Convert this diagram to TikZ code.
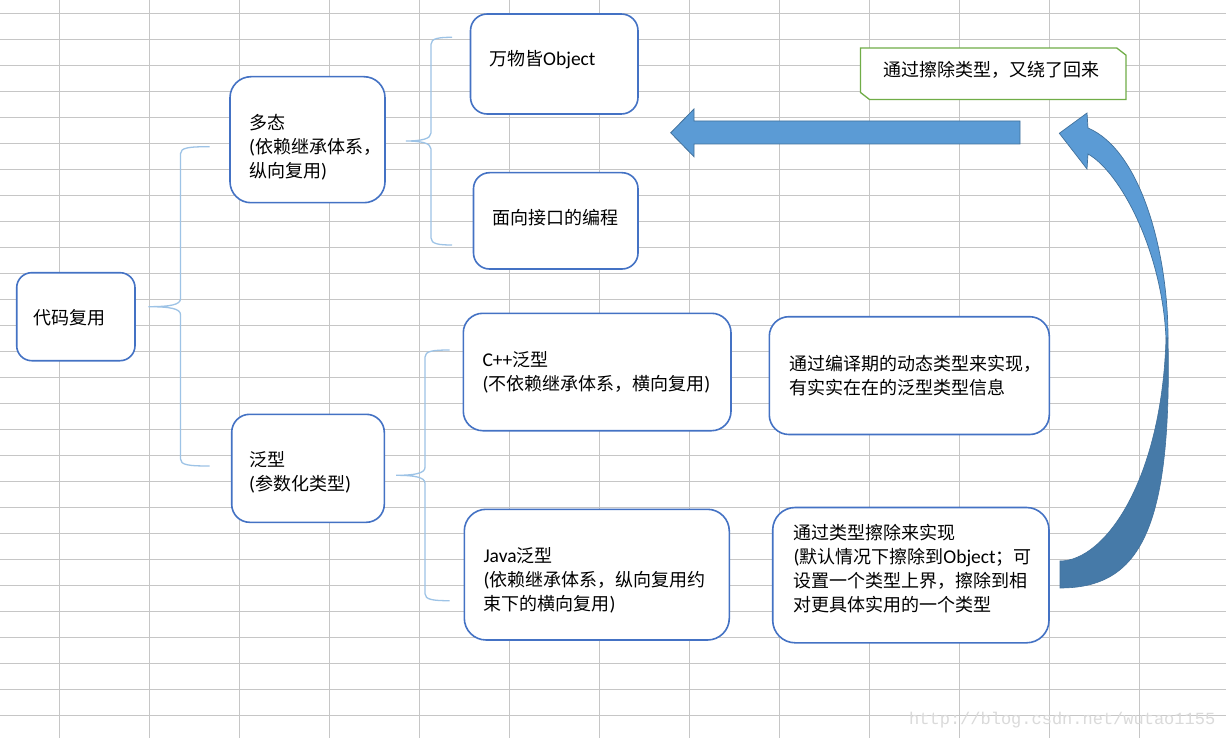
\documentclass[tikz,border=0pt]{standalone}
\usepackage{fontspec}
\setmainfont{Carlito}
\newfontfamily\cjk{Noto Sans CJK SC}
\newfontfamily\latf{Carlito}
\newfontfamily\wmfont{Liberation Mono}
\definecolor{gridc}{HTML}{C6C6C6}
\definecolor{boxc}{HTML}{4472C4}
\definecolor{bracec}{HTML}{9DC3E6}
\definecolor{arrowf}{HTML}{5B9BD5}
\definecolor{arrowd}{HTML}{41719C}
\definecolor{arrowdark}{HTML}{467AA8}
\definecolor{greenc}{HTML}{70AD47}
\definecolor{wmc}{HTML}{DADADA}
\newcommand\latx[1]{{\latf\fontsize{19.5}{24}\selectfont #1}}
\newcommand\mybrace[6]{%
 \draw[bracel] (#6,#4) .. controls ({#3+8},#4) and (#3,{#4+1}) .. (#3,{#4+7})
   -- (#3,{#2-8}) .. controls (#3,{#2-2}) and ({#3-10},#2) .. (#1,#2)
   .. controls ({#3-10},#2) and (#3,{#2+2}) .. (#3,{#2+8})
   -- (#3,{#5-7}) .. controls (#3,{#5-1}) and ({#3+8},#5) .. (#6,#5);}
\begin{document}
\begin{tikzpicture}[x=1pt,y=-1pt,
  box/.style={draw=boxc, line width=1.6pt, fill=white, inner sep=0pt},
  txt/.style={inner sep=0pt, align=left, anchor=west, font=\cjk\fontsize{18}{24}\selectfont},
  bracel/.style={draw=bracec, line width=1.3pt},
  gridline/.style={draw=gridc, line width=1pt},
  bigarrow/.style={draw=arrowd, line width=0.8pt, fill=arrowf}]
\useasboundingbox (0,0) rectangle (1226,738);
\fill[white] (0,0) rectangle (1226,738);
% grid
\foreach \i in {0,...,12} \draw[gridline] ({59.5+90*\i},0) -- ({59.5+90*\i},738);
\foreach \j in {0,...,27} \draw[gridline] (0,{13.3+26*\j}) -- (1226,{13.3+26*\j});
% braces
\mybrace{148.3}{306.7}{180.5}{146.7}{466}{209.5}
\mybrace{406}{141}{431}{37.3}{245}{452}
\mybrace{396}{475.3}{425}{350}{600.7}{449.5}
% boxes
\node[box, rounded corners=15pt, minimum width=118.3pt, minimum height=88pt] (dm) at (75.85,316.7) {};
\node[box, rounded corners=21pt, minimum width=155pt, minimum height=126pt] (dt) at (307.5,139.7) {};
\node[box, rounded corners=18pt, minimum width=152.6pt, minimum height=108pt] (fx) at (308,468.3) {};
\node[box, rounded corners=16.7pt, minimum width=167.5pt, minimum height=100pt] (wo) at (554.25,64) {};
\node[box, rounded corners=16pt, minimum width=164.5pt, minimum height=96.3pt] (mx) at (555.75,220.85) {};
\node[box, rounded corners=19.5pt, minimum width=267.7pt, minimum height=117.4pt] (cpp) at (597.15,372) {};
\node[box, rounded corners=21.8pt, minimum width=265pt, minimum height=130.7pt] (jv) at (596.8,574.65) {};
\node[box, rounded corners=19.6pt, minimum width=280pt, minimum height=117.8pt] (by) at (909.3,375.6) {};
\node[box, rounded corners=22.5pt, minimum width=276.3pt, minimum height=135.3pt] (cc) at (910.85,575.15) {};
% snipped green box
\node[minimum width=265pt, minimum height=51pt, inner sep=0pt] (gr) at (993.2,73.8) {};
\draw[draw=greenc, fill=white, line width=1.3pt] (gr.north west) -- ([xshift=-9pt]gr.north east)
  -- ([yshift=-7pt]gr.north east) -- (gr.south east) -- ([xshift=9pt]gr.south west)
  -- ([yshift=7pt]gr.south west) -- cycle;
% texts
\node[txt] (dmT) at (33.3,318) {代码复用};
\node[txt] (dtT) at (249,147) {多态\\\latx{(}依赖继承体系，\\纵向复用\latx{)}};
\node[txt] (fxT) at (249,472.5) {泛型\\\latx{(}参数化类型\latx{)}};
\node[txt] (woT) at (489,60) {万物皆\latx{Object}};
\node[txt] (mxT) at (492,218) {面向接口的编程};
\node[txt] (cppT) at (482.3,372.7) {\latx{C++}泛型\\\latx{(}不依赖继承体系，横向复用\latx{)}};
\node[txt] (jvT) at (483.3,580.7) {\latx{Java}泛型\\\latx{(}依赖继承体系，纵向复用约\\束下的横向复用\latx{)}};
\node[txt] (byT) at (789,375.7) {通过编译期的动态类型来实现，\\有实实在在的泛型类型信息};
\node[txt] (ccT) at (793.3,568.5) {通过类型擦除来实现\\\latx{(}默认情况下擦除到\latx{Object}；可\\设置一个类型上界，擦除到相\\对更具体实用的一个类型};
\node[inner sep=0pt, font=\cjk\fontsize{18}{24}\selectfont] (grT) at (991,70) {通过擦除类型，又绕了回来};
% straight arrow
\draw[bigarrow] (1020,121) -- (694,121) -- (694,109) -- (670.7,132.8) -- (694,156.7) -- (694,144) -- (1020,144) -- cycle;
% curved arrow
\draw[draw=arrowd, line width=0.6pt, fill=arrowdark] (1168,338) .. controls (1172,530) and (1140,588) .. (1060,588)
  -- (1060,561) .. controls (1105,561) and (1162,480) .. (1166,338) -- cycle;
\draw[bigarrow, line width=0.7pt] (1088,128) .. controls (1140,150) and (1168,250) .. (1168,338)
  -- (1166,338) .. controls (1162,250) and (1120,172) .. (1088,154)
  -- (1087,169) -- (1059.3,133.3) -- (1087,113) -- cycle;
% watermark
\node[anchor=base west, inner sep=0pt, font=\wmfont\fontsize{17}{17}\selectfont, text=wmc] (wm) at (909,724) {http://blog.csdn.net/wutao1155};
\end{tikzpicture}
\end{document}
